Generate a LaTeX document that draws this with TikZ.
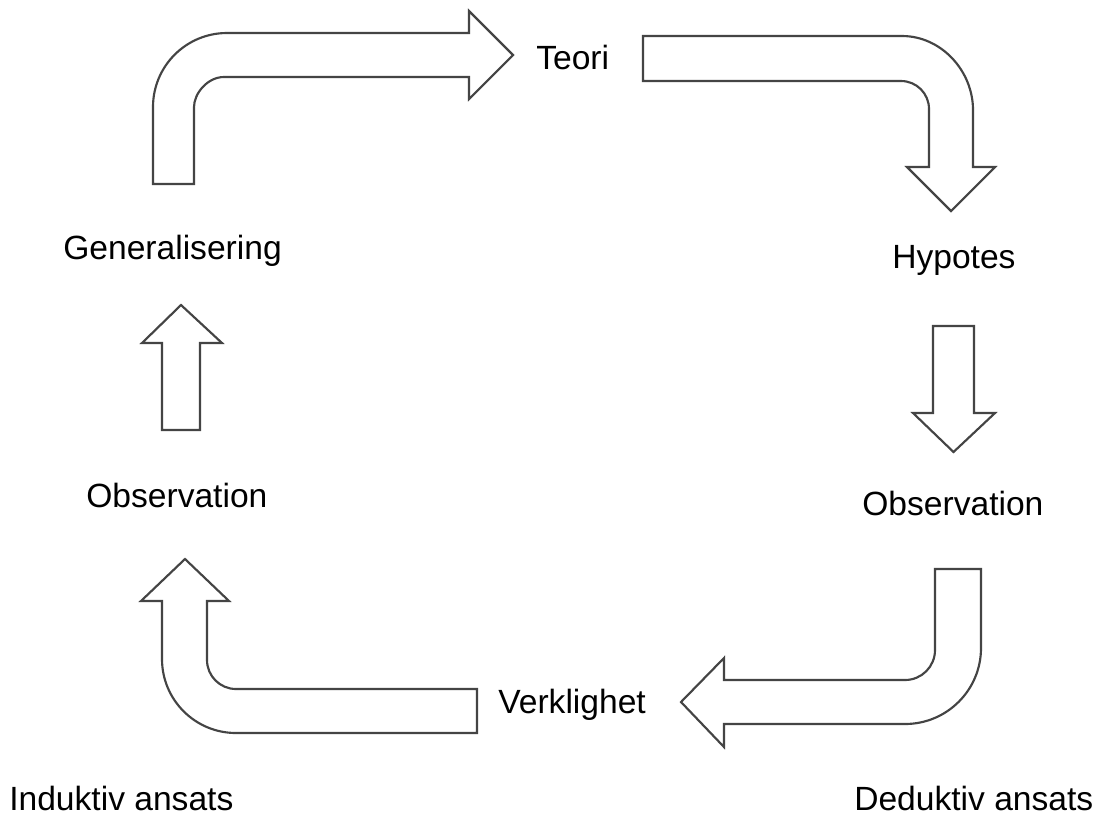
\documentclass[tikz,border=0pt]{standalone}
\usepackage{fontspec}
\setmainfont{Liberation Sans}
\begin{document}
\begin{tikzpicture}[x=0.75pt,y=-0.75pt,
  blockarrow/.style={draw=arrowgray,line width=1.6pt,line join=miter,fill=white},
  lbl/.style={anchor=base west,inner sep=0pt,font=\fontsize{25.2}{30}\selectfont,text=black}]
\definecolor{arrowgray}{HTML}{444444}
\useasboundingbox[fill=white] (0,0) rectangle (1098,815);
% top-left bent arrow (to Teori)
\draw[blockarrow] (153,184) -- (153,107) .. controls (153,66.1) and (186.1,33) .. (227,33)
  -- (469,33) -- (469,11) -- (513,55) -- (469,99) -- (469,77) -- (224,77)
  .. controls (207.4,77) and (194,93.6) .. (194,107) -- (194,184) -- cycle;
% top-right bent arrow (to Hypotes)
\draw[blockarrow] (643,36) -- (902,36) .. controls (941.2,36) and (973,70.8) .. (973,110)
  -- (973,167) -- (995,167) -- (951,211) -- (907,167) -- (929,167) -- (929,109)
  .. controls (929,93.5) and (916.5,81) .. (901,81) -- (643,81) -- cycle;
% right straight arrow (down)
\draw[blockarrow] (933,326) -- (974,326) -- (974,413) -- (995,413) -- (953.5,452)
  -- (913,413) -- (933,413) -- cycle;
% bottom-right bent arrow (to Verklighet)
\draw[blockarrow] (935,569) -- (981,569) -- (981,648) .. controls (981,690) and (947,724) .. (905,724)
  -- (724,724) -- (724,747) -- (681,702) -- (724,658) -- (724,680) -- (905,680)
  .. controls (921.6,680) and (935,666.6) .. (935,650) -- cycle;
% bottom-left bent arrow (to Observation)
\draw[blockarrow] (477,689) -- (236,689) .. controls (220,689) and (207,676) .. (207,660)
  -- (207,601) -- (229,601) -- (185,559) -- (141,601) -- (162,601) -- (162,659)
  .. controls (162,699.9) and (195.1,733) .. (236,733) -- (477,733) -- cycle;
% left straight arrow (up)
\draw[blockarrow] (162,430) -- (162,343) -- (142,343) -- (181,305) -- (222,343)
  -- (200,343) -- (200,430) -- cycle;
% labels
\node[lbl] (teori) at (536,69) {Teori};
\node[lbl] (gen) at (63,259) {Generalisering};
\node[lbl] (hyp) at (892,268) {Hypotes};
\node[lbl] (obsl) at (86,507) {Observation};
\node[lbl] (obsr) at (862,515) {Observation};
\node[lbl] (verk) at (498,713) {Verklighet};
\node[lbl] (ind) at (9,810) {Induktiv ansats};
\node[lbl] (ded) at (854,810) {Deduktiv ansats};
\end{tikzpicture}
\end{document}
